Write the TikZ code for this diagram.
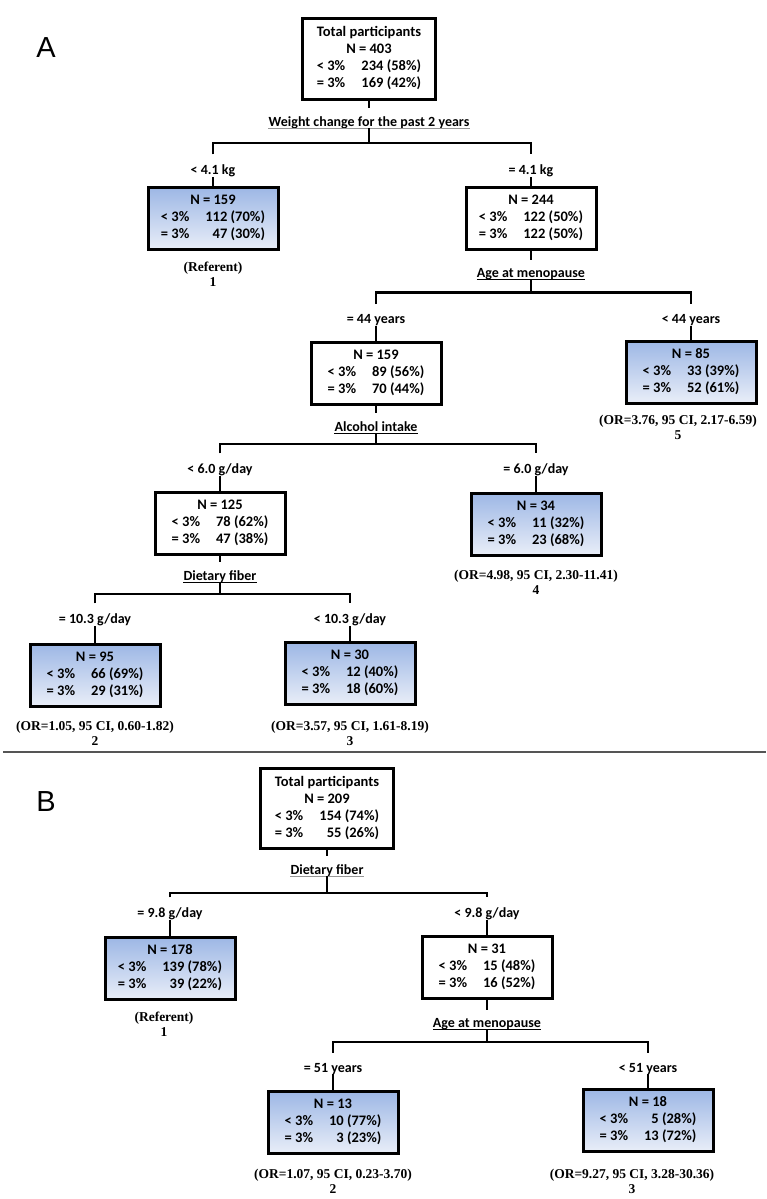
\documentclass[tikz,border=0pt]{standalone}
\usepackage{fontspec}
\usepackage{tikz}
\setmainfont{Carlito}
\newfontfamily\orfont{Liberation Serif}
\newfontfamily\panelfont{Liberation Sans}
\definecolor{hitop}{RGB}{157,183,229}
\definecolor{hibot}{RGB}{233,238,248}
\definecolor{ulgray}{RGB}{150,150,150}
\definecolor{rulegray}{RGB}{85,85,85}

\newcommand{\nodecounts}[3]{%
  \begin{tabular}{@{}l@{\hspace{16pt}}r@{}}
    \multicolumn{2}{@{}c@{}}{N = #1}\\
    < 3\% & #2\\
    = 3\% & #3
  \end{tabular}}
\newcommand{\rootcounts}[3]{%
  \begin{tabular}{@{}l@{\hspace{16pt}}r@{}}
    \multicolumn{2}{@{}c@{}}{Total participants}\\
    \multicolumn{2}{@{}c@{}}{N = #1}\\
    < 3\% & #2\\
    = 3\% & #3
  \end{tabular}}

\begin{document}
\begin{tikzpicture}[x=1pt,y=-1pt,
                box/.style={draw,line width=3pt,minimum width=130pt,minimum height=62pt,inner sep=0pt,font=\fontsize{14.5}{17}\selectfont\bfseries},
                hit/.style={box,top color=hitop,bottom color=hibot},
                rootbox/.style={box,minimum width=133pt,minimum height=80pt},
                cond/.style={inner sep=0pt,anchor=base,font=\fontsize{14}{17}\selectfont\bfseries},
                quest/.style={cond,text depth=1.5pt,append after command={(\tikzlastnode.south west) edge[draw=#1,line width=1.4pt] (\tikzlastnode.south east)}},
                quest/.default=black,
                link/.style={line width=2.8pt},
                odds/.style={inner sep=0pt,align=center,font=\orfont\fontsize{13.5}{15}\selectfont\bfseries},
                panel/.style={inner sep=0pt,font=\panelfont\fontsize{29}{30}\selectfont}]
                \useasboundingbox (0,0) rectangle (766,1199);

                % tree A
                \node[panel] (pa) at (46,48) {A};
                \node[rootbox] (ra) at (369,59) {\rootcounts{403}{234 (58\%)}{169 (42\%)}};
                \node[quest=ulgray] (qa1) at (369,126.5) {Weight change for the past 2 years};
                \coordinate (ba1) at (369,143);
                \node[cond] (ca1) at (213,174.5) {< 4.1 kg};
                \node[cond] (ca2) at (531,174.5) {= 4.1 kg};
                \node[hit] (na1) at (213,218.5) {\nodecounts{159}{112 (70\%)}{47 (30\%)}};
                \node[box] (na2) at (531,218.5) {\nodecounts{244}{122 (50\%)}{122 (50\%)}};
                \node[odds] (oa1) at (213,274.5) {(Referent)\\1};

                \node[quest] (qa2) at (531,277.5) {Age at menopause};
                \coordinate (ba2) at (531,292.5);
                \node[cond] (ca3) at (376,323.5) {= 44 years};
                \node[cond] (ca4) at (691,323.5) {< 44 years};
                \node[box] (na3) at (376,373) {\nodecounts{159}{89 (56\%)}{70 (44\%)}};
                \node[hit] (na4) at (691,372) {\nodecounts{85}{33 (39\%)}{52 (61\%)}};
                \node[odds] (oa4) at (678,427.5) {(OR=3.76, 95 CI, 2.17-6.59)\\5};

                \node[quest] (qa3) at (376,431.5) {Alcohol intake};
                \coordinate (ba3) at (376,444);
                \node[cond] (ca5) at (220,473.5) {< 6.0 g/day};
                \node[cond] (ca6) at (536,473.5) {= 6.0 g/day};
                \node[box] (na5) at (220,523) {\nodecounts{125}{78 (62\%)}{47 (38\%)}};
                \node[hit] (na6) at (536,524) {\nodecounts{34}{11 (32\%)}{23 (68\%)}};
                \node[odds] (oa6) at (536,582.5) {(OR=4.98, 95 CI, 2.30-11.41)\\4};

                \node[quest] (qa4) at (220,580.5) {Dietary fiber};
                \coordinate (ba4) at (220,594);
                \node[cond] (ca7) at (95,623.5) {= 10.3 g/day};
                \node[cond] (ca8) at (350,623.5) {< 10.3 g/day};
                \node[hit] (na7) at (95,675) {\nodecounts{95}{66 (69\%)}{29 (31\%)}};
                \node[hit] (na8) at (350,673.5) {\nodecounts{30}{12 (40\%)}{18 (60\%)}};
                \node[odds] (oa7) at (95,733.5) {(OR=1.05, 95 CI, 0.60-1.82)\\2};
                \node[odds] (oa8) at (350,733.5) {(OR=3.57, 95 CI, 1.61-8.19)\\3};

                \draw[link] (ra) edge[shorten >=8pt] (qa1)
                (qa1) edge (ba1)
                (ca1) edge (na1)
                (ca2) edge (na2)
                (na2) edge[shorten >=8pt] (qa2)
                (qa2) edge (ba2)
                (ca3) edge (na3)
                (ca4) edge (na4)
                (na3) edge[shorten >=8pt] (qa3)
                (qa3) edge (ba3)
                (ca5) edge (na5)
                (ca6) edge (na6)
                (na5) edge[shorten >=8pt] (qa4)
                (qa4) edge (ba4)
                (ca7) edge (na7)
                (ca8) edge (na8);
                \draw[link,shorten <=10pt,shorten >=10pt] (ca1) |- (ba1) -| (ca2);
                \draw[link,shorten <=10pt,shorten >=10pt] (ca3) |- (ba2) -| (ca4);
                \draw[link,shorten <=10pt,shorten >=10pt] (ca5) |- (ba3) -| (ca6);
                \draw[link,shorten <=10pt,shorten >=10pt] (ca7) |- (ba4) -| (ca8);

                \draw[line width=2pt,rulegray] (3,752) -- (766,752);

                % tree B
                \node[panel] (pb) at (46,802) {B};
                \node[rootbox] (rb) at (327,808.5) {\rootcounts{209}{154 (74\%)}{55 (26\%)}};
                \node[quest=ulgray] (qb1) at (327,874.5) {Dietary fiber};
                \coordinate (bb1) at (327,893);
                \node[cond] (cb1) at (170,917.5) {= 9.8 g/day};
                \node[cond] (cb2) at (487,917.5) {< 9.8 g/day};
                \node[hit] (nb1) at (170,968.5) {\nodecounts{178}{139 (78\%)}{39 (22\%)}};
                \node[box] (nb2) at (487,967) {\nodecounts{31}{15 (48\%)}{16 (52\%)}};
                \node[odds] (ob1) at (164,1024) {(Referent)\\1};

                \node[quest] (qb2) at (487,1027.5) {Age at menopause};
                \coordinate (bb2) at (487,1042);
                \node[cond] (cb3) at (333,1072) {= 51 years};
                \node[cond] (cb4) at (648,1072) {< 51 years};
                \node[hit] (nb3) at (333,1122.5) {\nodecounts{13}{10 (77\%)}{3 (23\%)}};
                \node[hit] (nb4) at (648,1120.5) {\nodecounts{18}{5 (28\%)}{13 (72\%)}};
                \node[odds] (ob3) at (333,1181) {(OR=1.07, 95 CI, 0.23-3.70)\\2};
                \node[odds] (ob4) at (632,1181) {(OR=9.27, 95 CI, 3.28-30.36)\\3};

                \draw[link] (rb) edge[shorten >=8pt] (qb1)
                (qb1) edge (bb1)
                (cb1) edge (nb1)
                (cb2) edge (nb2)
                (nb2) edge[shorten >=8pt] (qb2)
                (qb2) edge (bb2)
                (cb3) edge (nb3)
                (cb4) edge (nb4);
                \draw[link,shorten <=10pt,shorten >=10pt] (cb1) |- (bb1) -| (cb2);
                \draw[link,shorten <=10pt,shorten >=10pt] (cb3) |- (bb2) -| (cb4);
            \end{tikzpicture}
\end{document}
